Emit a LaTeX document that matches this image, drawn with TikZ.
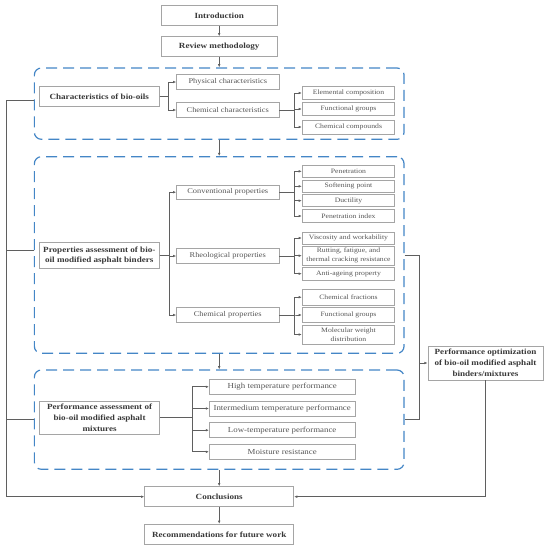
\documentclass[tikz,border=0pt]{standalone}
\usepackage{fontspec}
\setmainfont{Liberation Serif}[FakeStretch=1.15]
\usepackage{tikz}
\usetikzlibrary{arrows.meta}
\definecolor{dashblue}{RGB}{68,134,198}
\definecolor{boxgray}{RGB}{165,165,165}
\definecolor{txtgray}{RGB}{85,85,85}
\definecolor{linegray}{RGB}{95,95,95}

\begin{document}
\begin{tikzpicture}[x=1pt, y=-1pt,
    box/.style={draw=boxgray, line width=0.8pt, text=txtgray, align=center, inner sep=1pt},
    main/.style={box, text=black!78, font=\bfseries\fontsize{7.9}{10.8}\selectfont, minimum width=116pt, minimum height=20pt},
    mid/.style={box, font=\fontsize{7.3}{9}\selectfont, minimum width=102.3pt, minimum height=14.6pt},
    sub/.style={box, font=\fontsize{6.7}{9.2}\selectfont, minimum width=92.4pt},
    wide/.style={box, font=\fontsize{7.7}{9}\selectfont, minimum width=145.6pt, minimum height=15pt},
    group/.style={draw=dashblue, line width=1.2pt, dash pattern=on 11pt off 6pt, rounded corners=7pt, minimum width=369.7pt, inner sep=0pt},
    conn/.style={draw=linegray, line width=0.7pt},
    arr/.style={conn, -{Latex[length=3.2pt,width=2.6pt]}}]
    \useasboundingbox (0,0) rectangle (547,550);

    % Draw dashed groups
    \node[group, minimum height=71.3pt] (grpA) at (219.2,103.65) {};
    \node[group, minimum height=196.6pt] (grpB) at (219.2,255) {};
    \node[group, minimum height=99.3pt] (grpC) at (219.2,419.65) {};

    % Draw main boxes
    \node[main] (intro) at (219.2,15.5) {Introduction};
    \node[main] (review) at (219.2,46.7) {Review methodology};
    \node[main, minimum width=120pt, minimum height=19.5pt] (char) at (99.3,96.4) {Characteristics of bio-oils};
    \node[main, minimum width=120pt, minimum height=25.6pt] (prop) at (99.3,255.5) {Properties assessment of bio-\\oil modified asphalt binders};
    \node[main, minimum width=120.4pt, minimum height=32.3pt] (perf) at (99.6,417.8) {Performance assessment of\\bio-oil modified asphalt\\mixtures};
    \node[main, minimum width=115pt, minimum height=34pt] (opt) at (485.5,363) {Performance optimization\\of bio-oil modified asphalt\\binders/mixtures};
    \node[main, minimum width=149pt] (concl) at (219.2,496.7) {Conclusions};
    \node[main, minimum width=149pt] (rec) at (219.2,534.3) {Recommendations for future work};

    % Draw middle boxes
    \node[mid] (phys) at (227.8,82) {Physical characteristics};
    \node[mid] (chemc) at (227.8,110) {Chemical characteristics};
    \node[mid] (conv) at (227.8,192.2) {Conventional properties};
    \node[mid] (rheo) at (227.8,256) {Rheological properties};
    \node[mid, minimum height=15.4pt] (chemp) at (227.8,315) {Chemical properties};

    % Draw small boxes
    \foreach \n/\y/\h/\t in {
        elem/93/12.6/Elemental composition,
        funcA/109/12.6/Functional groups,
        comp/127/14/Chemical compounds,
        pen/171.3/12/Penetration,
        soft/186.3/12.7/Softening point,
        duct/200.7/12/Ductility,
        penidx/216/12.6/Penetration index,
        visc/238/12/Viscosity and workability,
        rut/255.7/19.3/{Rutting, fatigue, and\\thermal cracking resistance},
        anti/273.7/12.7/Anti-ageing property,
        frac/297.2/15.7/Chemical fractions,
        funcB/315/15.4/Functional groups,
        mw/334.5/19/{Molecular weight\\distribution}}
        \node[sub, minimum height=\h pt] (\n) at (348.5,\y) {\t};

    % Draw mixture boxes
    \foreach \n/\y/\t in {high/386.8/High temperature performance,
        inter/408.5/Intermedium temperature performance,
        low/430.2/Low-temperature performance,
        moist/451.8/Moisture resistance}
        \node[wide] (\n) at (282.2,\y) {\t};

    % Main flow
    \draw[arr] (intro) -- (review);
    \draw[arr] (review) -- (grpA);
    \draw[arr] (grpA) -- (grpB);
    \draw[arr] (grpB) -- (grpC);
    \draw[arr] (grpC) -- (concl);
    \draw[arr] (concl) -- (rec);

    % Branches
    \foreach \t in {phys,chemc}
        \draw[arr] (char.east) -- ++(9,0) |- (\t.west);
    \foreach \t in {elem,funcA,comp}
        \draw[arr] (chemc.east) -- ++(14.7,0) |- (\t.west);
    \foreach \t in {conv,rheo,chemp}
        \draw[arr] (prop.east) -- ++(9.6,0) |- (\t.west);
    \foreach \t in {pen,soft,duct,penidx}
        \draw[arr] (conv.east) -- ++(14.7,0) |- (\t.west);
    \foreach \t in {visc,rut,anti}
        \draw[arr] (rheo.east) -- ++(14.7,0) |- (\t.west);
    \foreach \t in {frac,funcB,mw}
        \draw[arr] (chemp.east) -- ++(14.7,0) |- (\t.west);
    \foreach \t in {high,inter,low,moist}
        \draw[arr] (perf.east) -- ++(32.2,0) |- (\t.west);

    % Left return line
    \draw[arr] ([yshift=3.6pt]grpA.west) -- ++(-27,0) |- (concl.west);
    \foreach \g/\s in {grpB/5,grpC/0}
        \draw[conn] ([yshift=\s pt]\g.west) -- ++(-27,0);

    % Right line to optimization
    \coordinate (rj) at (419.7,363);
    \draw[conn] (grpB.east) -| (rj) |- (grpC.east);
    \draw[arr] (rj) -- (opt.west);
    \draw[arr] (opt.south) |- (concl.east);
\end{tikzpicture}
\end{document}
